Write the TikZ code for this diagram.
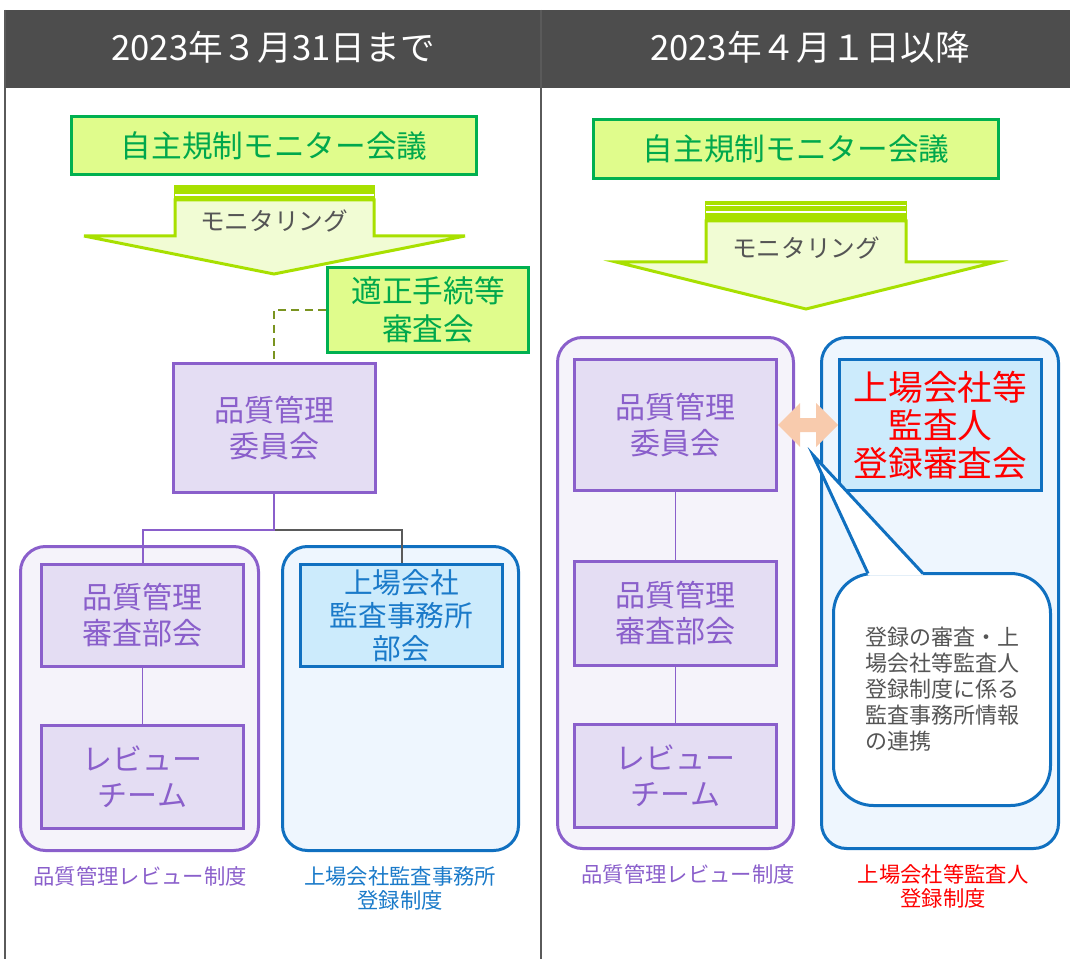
\documentclass[tikz,border=0pt]{standalone}
\usepackage{fontspec}
\setmainfont{Noto Sans CJK JP}
\usetikzlibrary{calc}
\definecolor{hdr}{HTML}{4D4D4D}
\definecolor{frm}{HTML}{5A5A5A}
\definecolor{grnF}{HTML}{E0FC8C}
\definecolor{grnB}{HTML}{00B050}
\definecolor{grnT}{HTML}{00A84C}
\definecolor{arrF}{HTML}{F1FCD4}
\definecolor{arrB}{HTML}{A8E000}
\definecolor{purF}{HTML}{E4DDF3}
\definecolor{purB}{HTML}{8A5FCB}
\definecolor{purC}{HTML}{F5F3FA}
\definecolor{bluF}{HTML}{CCEBFC}
\definecolor{bluB}{HTML}{1070C0}
\definecolor{bluC}{HTML}{EEF6FE}
\definecolor{bluT}{HTML}{1A7AC9}
\definecolor{redT}{HTML}{FF0000}
\definecolor{peach}{HTML}{F8CBAD}
\definecolor{dashC}{HTML}{7A9420}
\definecolor{txtG}{HTML}{555555}
\begin{document}
\begin{tikzpicture}[x=0.75pt,y=-0.75pt,
  box/.style={draw, line width=2.25pt, align=center, inner sep=0pt},
  greenbox/.style={box, draw=grnB, fill=grnF, text=grnT, font=\fontsize{23}{28.5}\selectfont},
  purbox/.style={box, draw=purB, fill=purF, text=purB, font=\fontsize{22.5}{27}\selectfont, minimum width=202*0.75pt},
  blubox/.style={box, draw=bluB, fill=bluF, text=bluT, minimum width=202*0.75pt},
  purcont/.style={draw=purB, fill=purC, line width=2.25pt, rounded corners=25*0.75pt, inner sep=0pt},
  blucont/.style={draw=bluB, fill=bluC, line width=2.25pt, rounded corners=25*0.75pt, inner sep=0pt},
  hdrtext/.style={text=white, font=\fontsize{26}{30}\selectfont},
  montext/.style={text=txtG, font=\fontsize{18.5}{22}\selectfont},
  caption/.style={align=center, font=\fontsize{16}{18}\selectfont},
  monarrow/.style={fill=arrF, draw=arrB, line width=2.25pt, line join=miter},
  purline/.style={draw=purB, line width=1.5pt},
  grayline/.style={draw=frm, line width=1.5pt},
  frame/.style={draw=frm, line width=1.5pt}
]
\useasboundingbox (0,0) rectangle (1070,959);
% header and frame
\fill[hdr] (4,10) rectangle (1070,88);
\draw[frame] (5,10) -- (5,959);
\draw[frame] (541,10) -- (541,959);
\node[hdrtext] (h1) at (273,47) {2023年３月31日まで};
\node[hdrtext] (h2) at (810,47) {2023年４月１日以降};

% ================= left panel =================
\node[greenbox, minimum width=405*0.75pt, minimum height=58*0.75pt] (g1) at (274,145.5) {自主規制モニター会議};
% monitoring arrow
\draw[monarrow] (175,200) -- (175,236) -- (84,236) -- (274,274) -- (465,236) -- (374,236) -- (374,200) -- cycle;
\fill[arrB] (174,185) rectangle (375,200);
\draw[white, line width=1.2pt] (175,195) -- (374,195);
\node[montext] (m1) at (274,221) {モニタリング};

\node[greenbox, minimum width=201*0.75pt, minimum height=85*0.75pt] (tek) at (428,310) {適正手続等\\審査会};
\node[purbox, minimum height=129*0.75pt] (iin1) at (274,428) {品質管理\\委員会};
\draw[dashC, line width=1.5pt, dash pattern=on 6pt off 4pt] (tek.west) -| (iin1.north);

\node[purcont, minimum width=238*0.75pt, minimum height=304*0.75pt] (con1) at (139.5,698.5) {};
\node[blucont, minimum width=236*0.75pt, minimum height=304*0.75pt] (con2) at (400.5,698.5) {};
\node[purbox, minimum height=102*0.75pt] (shin1) at (142.5,615.5) {品質管理\\審査部会};
\node[purbox, minimum height=103*0.75pt] (rev1) at (142.5,777) {レビュー\\チーム};
\node[blubox, minimum height=102*0.75pt, font=\fontsize{21.5}{25}\selectfont] (bukai) at (401.5,615.5) {上場会社\\監査事務所\\部会};

\draw[grayline] (iin1.south) -- ++(0,36) -| (bukai.north);
\draw[purline] (iin1.south) -- ++(0,36) -| (shin1.north);
\draw[purB, line width=1.2pt] (shin1) -- (rev1);

\node[caption, text=purB] (cap1) at (140,876) {品質管理レビュー制度};
\node[caption, text=bluT] (cap2) at (400,888) {上場会社監査事務所\\登録制度};

% ================= right panel =================
\node[greenbox, minimum width=405*0.75pt, minimum height=59*0.75pt] (g2) at (796,149) {自主規制モニター会議};
\draw[monarrow] (706,221) -- (706,262) -- (616,262) -- (806,309) -- (996,262) -- (906,262) -- (906,221) -- cycle;
\fill[arrB] (705,201) rectangle (907,221);
\draw[white, line width=0.5pt] (706,205.5) -- (906,205.5);
\draw[white, line width=1.5pt] (706,212) -- (906,212);
\node[montext] (m2) at (806,248) {モニタリング};

\node[purcont, minimum width=236*0.75pt, minimum height=511*0.75pt] (con3) at (675.5,593) {};
\node[blucont, minimum width=237*0.75pt, minimum height=511*0.75pt] (con4) at (940,593) {};
\node[purbox, minimum height=131*0.75pt] (iin2) at (675.5,425) {品質管理\\委員会};
\node[purbox, minimum height=104*0.75pt] (shin2) at (675.5,613.5) {品質管理\\審査部会};
\node[purbox, minimum height=103*0.75pt] (rev2) at (675.5,776) {レビュー\\チーム};
\draw[purB, line width=1.2pt] (iin2) -- (shin2);
\draw[purB, line width=1.2pt] (shin2) -- (rev2);
\node[box, draw=bluB, fill=bluF, text=redT, minimum width=202*0.75pt, minimum height=131*0.75pt, font=\fontsize{26}{28.5}\selectfont] (tour) at (940.5,425) {上場会社等\\監査人\\登録審査会};

% double arrow
\fill[peach] (iin2.east) -- ++(22,-22) -- ++(0,15) -- ++(16,0) -- ++(0,-15) -- (tour.west) -- ++(-22,22) -- ++(0,-15) -- ++(-16,0) -- ++(0,15) -- cycle;

% callout
\node[draw=bluB, fill=white, line width=2.25pt, rounded corners=40*0.75pt, minimum width=217*0.75pt, minimum height=232*0.75pt, inner sep=0pt, text=txtG, align=left, font=\fontsize{16.5}{19.5}\selectfont] (note) at (942,689.5) {登録の審査・上\\場会社等監査人\\登録制度に係る\\監査事務所情報\\の連携};
\coordinate (tip) at (813,455);
\fill[white] (868,575) -- (tip) -- (923,575) -- cycle;
\draw[bluB, line width=2.25pt, line join=miter] (868,573.5) -- (tip) -- (923,573.5);

\node[caption, text=purB] (cap3) at (688,874) {品質管理レビュー制度};
\node[caption, text=redT] (cap4) at (943,886) {上場会社等監査人\\登録制度};
\end{tikzpicture}
\end{document}
